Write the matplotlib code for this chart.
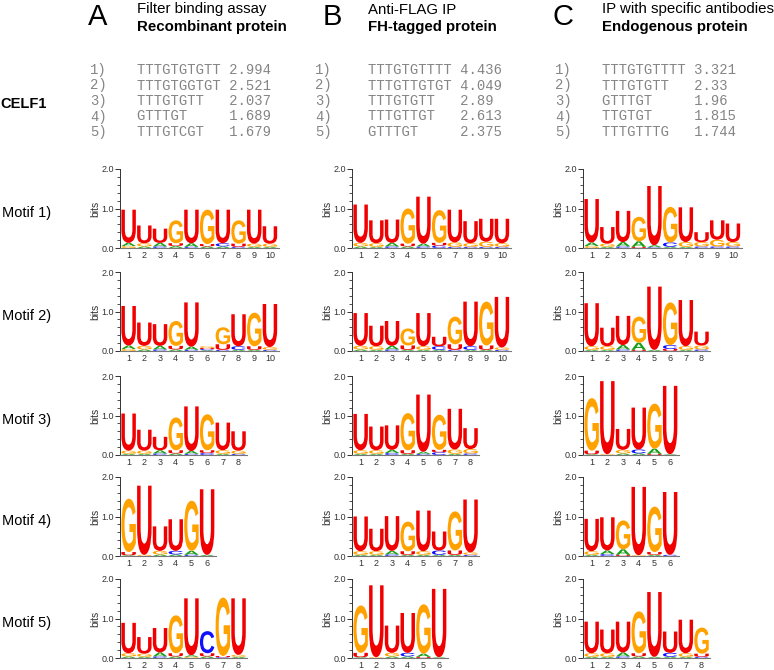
"""
Logos de motivos CELF1 en tres columnas (A, B, C) con la lista de k-meros arriba.
"""
import numpy as np
import matplotlib
matplotlib.use("Agg")
import matplotlib.pyplot as plt
from matplotlib.textpath import TextPath
from matplotlib.patches import PathPatch
from matplotlib.font_manager import FontProperties
from matplotlib.ticker import MultipleLocator
import matplotlib.transforms as mtrans

plt.rcParams['font.family'] = ['Liberation Sans', 'DejaVu Sans']

# --- datos ---------------------------------------------------------------
col_letters = ["A", "B", "C"]
col_line1 = ["Filter binding assay", "Anti-FLAG IP", "IP with specific antibodies"]
col_line2 = ["Recombinant protein", "FH-tagged protein", "Endogenous protein"]

kmers_A = ["TTTGTGTGTT", "TTTGTGGTGT", "TTTGTGTT", "GTTTGT", "TTTGTCGT"]
scores_A = ["2.994", "2.521", "2.037", "1.689", "1.679"]
kmers_B = ["TTTGTGTTTT", "TTTGTTGTGT", "TTTGTGTT", "TTTGTTGT", "GTTTGT"]
scores_B = ["4.436", "4.049", "2.89", "2.613", "2.375"]
kmers_C = ["TTTGTGTTTT", "TTTGTGTT", "GTTTGT", "TTGTGT", "TTTGTTTG"]
scores_C = ["3.321", "2.33", "1.96", "1.815", "1.744"]

protein = "CELF1"
motif_names = ["Motif 1)", "Motif 2)", "Motif 3)", "Motif 4)", "Motif 5)"]

# cada posición: pila de letras (de abajo a arriba) con su altura en bits
logos_A = [
    ["G.05 A.08 U.84", "A.04 G.08 U.45", "C.04 A.09 U.36", "A.05 U.07 G.58",
     "C.03 A.09 U.85", "A.04 U.06 G.87", "A.04 C.08 U.85", "C.03 U.08 G.59",
     "A.03 G.08 U.86", "A.03 G.08 U.44"],
    ["G.05 A.09 U1.0", "A.04 G.09 U.59", "C.04 A.09 U.55", "A.04 U.09 G.63",
     "C.03 A.08 U1.12", "A.02 C.03 U.03 G.04", "C.03 U.14 G.43", "A.03 C.09 U.81",
     "A.03 U.09 G.85", "C.03 G.07 U1.09"],
    ["A.03 G.08 U.94", "A.03 G.08 U.53", "C.04 A.08 U.34", "A.04 U.08 G.83",
     "C.03 A.07 U1.13", "C.05 U.07 G.91", "A.03 G.09 U.70", "C.03 G.08 U.49"],
    ["A.02 U.08 G1.35", "G.03 U1.75", "A.04 G.09 U.62", "A.04 C.09 U.80",
     "C.03 A.10 G1.27", "A.03 U1.66"],
    ["A.04 G.08 U.77", "A.03 G.08 U.42", "C.04 A.10 U.62", "A.04 U.08 G.96",
     "G.03 A.04 U1.44", "A.04 U.08 C.56", "C.02 U.03 G1.48", "A.03 G.05 U1.43"],
]
logos_B = [
    ["A.04 G.09 U.97", "A.03 G.09 U.58", "C.04 A.09 U.59", "A.04 U.07 G.89",
     "C.04 A.07 U1.19", "C.06 U.07 G.83", "C.03 G.11 U.83", "C.03 G.09 U.56",
     "C.03 G.13 U.58", "C.03 G.09 U.62"],
    ["A.04 G.09 U.83", "A.03 G.09 U.52", "C.04 A.09 U.63", "A.03 U.11 G.43",
     "A.03 G.09 U.84", "A.03 C.09 U.24", "C.03 U.14 G.70", "A.03 C.09 U1.13",
     "A.03 U.11 G1.11", "C.03 G.06 U1.28"],
    ["A.03 G.09 U.92", "A.03 G.09 U.60", "C.05 A.08 U.62", "A.03 U.09 G.94",
     "C.03 A.05 U1.45", "C.07 U.06 G.89", "A.03 G.11 U1.03", "C.04 G.11 U.53"],
    ["A.03 G.09 U.88", "A.03 G.09 U.57", "C.04 A.09 U.88", "A.03 U.09 G.75",
     "A.03 G.09 U1.03", "A.03 C.11 U.48", "A.03 U.11 G.99", "C.03 G.06 U1.34"],
    ["A.02 U.11 G1.20", "G.02 U1.82", "A.04 G.09 U.69", "A.04 C.09 U1.01",
     "U.03 A.08 G1.25", "A.02 U1.73"],
]
logos_C = [
    ["G.05 A.09 U1.10", "A.03 G.08 U.42", "C.04 A.11 U.79", "U.03 A.14 G.62",
     "C.02 A.05 U1.50", "A.03 C.11 G.90", "A.03 G.12 U.88", "C.04 G.11 U.25",
     "C.04 G.17 U.49", "C.04 G.11 U.47"],
    ["A.03 G.09 U1.09", "A.03 G.09 U.47", "C.04 A.11 U.74", "U.03 A.18 G.66",
     "A.03 U1.60", "U.05 C.10 G1.08", "A.03 G.09 U1.17", "C.04 G.10 U.35"],
    ["A.02 U.09 G1.33", "G.02 U1.85", "A.04 G.09 U.53", "A.04 C.10 U1.06",
     "U.03 A.13 G1.14", "A.02 U1.73"],
    ["A.03 G.09 U.82", "C.05 A.09 U.84", "U.03 A.14 G.73", "G.02 U1.73",
     "A.03 U.07 G1.15", "C.03 U1.59"],
    ["A.03 G.09 U.80", "A.03 G.09 U.60", "C.04 A.10 U.78", "A.04 U.08 G1.06",
     "A.03 U1.64", "A.03 C.10 U.54", "A.03 G.09 U.85", "C.03 U.08 G.66"],
]

colores = {'A': '#1a9e1a', 'C': '#1010ff', 'G': '#ffa200', 'U': '#f00000'}

# --- figura (coordenadas en píxeles, y desde arriba) ----------------------
W, H = 774, 670
fig = plt.figure(figsize=(W / 100, H / 100), dpi=100)

def fx(x):
    return x / W

def fy(y):
    return 1 - y / H

fp = FontProperties(family='Liberation Sans', weight='bold')
glifos = {c: TextPath((0, 0), c, size=1, prop=fp) for c in 'ACGU'}

def letra(ax, c, x, y, ancho, alto):
    # estira el glifo para que ocupe la caja (x-ancho/2, y, ancho, alto)
    p = glifos[c]
    ext = p.get_extents()
    t = (mtrans.Affine2D().translate(-ext.x0, -ext.y0)
         .scale(ancho / ext.width, alto / ext.height)
         .translate(x - ancho / 2, y))
    ax.add_patch(PathPatch(t.transform_path(p), fc=colores[c], ec='none', lw=0))

def logo(ax, pilas):
    for i, pila in enumerate(pilas):
        y = 0.0
        for item in pila.split():
            c, h = item[0], float(item[1:])
            letra(ax, c, i + 1, y, 0.92, h)
            y += h
    n = len(pilas)
    ax.set_xlim(0.45, n + 0.55)
    ax.set_ylim(0, 2.0)
    ax.set_xticks(np.arange(1, n + 1))
    ax.tick_params(axis='x', length=0, labelsize=6.5, pad=2, colors='#333333')
    ax.set_yticks([0, 1, 2])
    ax.set_yticklabels(['0.0', '1.0', '2.0'])
    ax.yaxis.set_minor_locator(MultipleLocator(0.2))
    ax.tick_params(axis='y', which='major', length=3.5, width=0.7,
                   labelsize=6.5, pad=1, colors='#333333')
    ax.tick_params(axis='y', which='minor', length=2, width=0.6, colors='#333333')
    ax.set_ylabel('bits', fontsize=7.5, labelpad=1, color='#333333')
    for s in ['top', 'right']:
        ax.spines[s].set_visible(False)
    ax.spines['left'].set_color('#333333')
    ax.spines['bottom'].set_color('#777777')
    ax.spines['left'].set_linewidth(0.7)
    ax.spines['bottom'].set_linewidth(0.8)
    ax.patch.set_alpha(0)

col_x = [120, 352, 583]
fila_top = [169, 272, 376, 477, 579]
alto_px = 79
px_pos = 15.7

for j, logos in enumerate([logos_A, logos_B, logos_C]):
    for i, pilas in enumerate(logos):
        n = len(pilas)
        ancho_px = (n + 0.1) * px_pos
        ax = fig.add_axes([fx(col_x[j]), fy(fila_top[i] + alto_px),
                           fx(ancho_px), alto_px / H])
        logo(ax, pilas)

# cabeceras
letra_x = [88, 323, 552]
texto_x = [137, 368, 602]
for j in range(3):
    fig.text(fx(letra_x[j]), fy(25), col_letters[j], fontsize=21,
             va='baseline', ha='left')
    fig.text(fx(texto_x[j]), fy(13.5), col_line1[j], fontsize=10.8,
             va='baseline', ha='left')
    fig.text(fx(texto_x[j]), fy(31), col_line2[j], fontsize=10.8,
             fontweight='bold', va='baseline', ha='left')

# listas de k-meros
num_x = [90, 315, 555]
seq_x = [137, 368, 602]
filas_y = [70, 85.5, 101, 116.5, 132]
for j, (kmers, scores) in enumerate([(kmers_A, scores_A), (kmers_B, scores_B),
                                     (kmers_C, scores_C)]):
    for i in range(5):
        fig.text(fx(num_x[j]), fy(filas_y[i] + 4), f"{i + 1})",
                 family='Liberation Mono', fontsize=10, color='#858585',
                 va='baseline')
        fig.text(fx(seq_x[j]), fy(filas_y[i] + 4), f"{kmers[i]:<10} {scores[i]}",
                 family='Liberation Mono', fontsize=10, color='#858585',
                 va='baseline')

fig.text(fx(0), fy(104), protein, fontsize=10.5, fontweight='bold',
         va='center', ha='left')
for i, nombre in enumerate(motif_names):
    fig.text(fx(2), fy(fila_top[i] + 44), nombre, fontsize=10.5,
             va='center', ha='left')

fig.savefig('out.png', dpi=100)
